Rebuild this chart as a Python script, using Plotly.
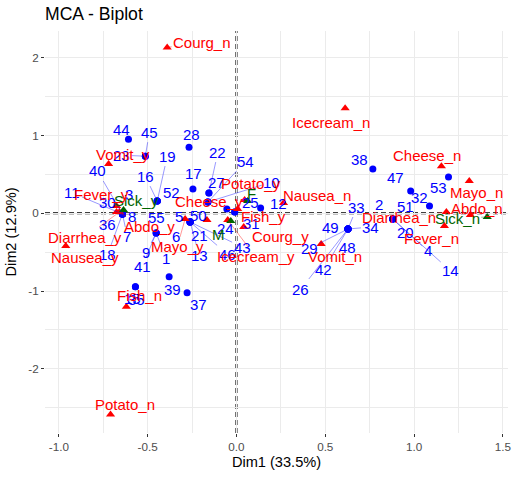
import math
import plotly.graph_objects as go

# ---------------- data ----------------
ind_names = [str(i) for i in range(1, 56)]
ind_dim1 = [-0.452, 0.880, -0.642, 0.880, -0.261, -0.261, -0.642, -0.642, -0.452, -0.161,
            -0.642, 0.136, -0.261, 0.880, -0.569, -0.446, -0.245, -0.642, -0.446, 0.880,
            -0.261, -0.155, -0.513, -0.054, -0.010, 0.628, -0.155, -0.267, 0.628, -0.642,
            -0.010, 1.087, 0.628, 0.628, -0.569, -0.642, -0.278, 0.768, -0.379, -0.642,
            -0.452, 0.628, -0.261, -0.608, -0.513, -0.261, 0.981, 0.628, 0.628, -0.161,
            0.880, -0.446, 1.194, -0.161, -0.446]
ind_dim2 = [-0.254, -0.074, -0.010, -0.074, -0.113, -0.113, -0.010, -0.010, -0.254, 0.144,
            -0.010, 0.067, -0.113, -0.074, -0.946, 0.156, 0.310, -0.010, 0.156, -0.074,
            -0.113, 0.259, 0.733, 0.054, 0.015, -0.203, 0.259, 0.849, -0.203, -0.010,
            0.015, 0.092, -0.203, -0.203, -0.946, -0.010, -1.023, 0.567, -0.818, -0.010,
            -0.254, -0.203, -0.113, 0.951, 0.733, -0.113, 0.285, -0.203, -0.203, 0.144,
            -0.074, 0.156, 0.464, 0.144, 0.156]

var_names = ["Nausea_n", "Nausea_y", "Vomit_n", "Vomit_y", "Abdo_n", "Abdo_y",
             "Fever_n", "Fever_y", "Diarrhea_n", "Diarrhea_y", "Potato_n", "Potato_y",
             "Fish_n", "Fish_y", "Mayo_n", "Mayo_y", "Courg_n", "Courg_y",
             "Cheese_n", "Cheese_y", "Icecream_n", "Icecream_y"]
var_dim1 = [0.265, -0.961, 0.477, -0.720, 1.317, -0.675, 1.171, -0.675, 1.182, -0.659,
            -0.709, 0.046, -0.620, 0.007, 1.311, -0.289, -0.390, 0.041, 1.154, -0.166,
            0.612, -0.049]
var_dim2 = [0.131, -0.421, -0.395, 0.631, -0.023, 0.015, -0.164, 0.092, 0.015, 0.015,
            -2.587, 0.169, -1.203, 0.054, 0.413, -0.074, 2.131, -0.177, 0.605, -0.087,
            1.349, -0.087]

sup_names = ["Sick_n", "Sick_y", "F", "M"]
sup_dim1 = [1.412, -0.636, 0.063, -0.032]
sup_dim2 = [-0.049, 0.041, 0.156, -0.100]

x_ticks = [-1.0, -0.5, 0.0, 0.5, 1.0, 1.5]
x_tick_labels = ["-1.0", "-0.5", "0.0", "0.5", "1.0", "1.5"]
y_ticks = [-2, -1, 0, 1, 2]
y_tick_labels = ["-2", "-1", "0", "1", "2"]

# ---------------- label placement (pixel offsets, repel-like) ----------------
ind_offsets = {
    "1": (10, 26), "2": (-14, -14), "3": (7, -19), "4": (35, 32), "5": (-11, -6),
    "6": (-14, 14), "7": (5, 23), "8": (10, 3), "9": (-10, 20), "10": (64, -20),
    "11": (-50, -21), "12": (18, -5), "13": (9, 33), "14": (58, 52), "15": (-3, 12),
    "16": (-12, -25), "17": (1, -16), "18": (-15, 41), "19": (10, -45), "20": (13, 14),
    "21": (9, 13), "22": (9, -41), "23": (-24, -1), "24": (-1, 19), "25": (16, -10),
    "26": (-47, 60), "27": (8, -11), "28": (2, -13), "29": (-38, 19), "30": (-15, -11),
    "31": (17, 11), "32": (-10, -9), "33": (9, -22), "34": (23, -2), "35": (1, 13),
    "36": (-15, 11), "37": (11, 12), "38": (-13, -10), "39": (3, 13), "40": (-25, -43),
    "41": (-14, 34), "42": (-24, 40), "43": (52, 25), "44": (-7, -10), "45": (4, -24),
    "46": (37, 32), "47": (-15, -14), "48": (0, 18), "49": (-17, -2), "50": (-9, 13),
    "51": (13, -12), "52": (14, -9), "53": (-10, 10), "54": (38, -41), "55": (-1, 16),
}
var_offsets = {
    "Courg_n": (35, -5), "Icecream_n": (-14, 14), "Cheese_n": (-14, -11),
    "Mayo_n": (7, 11), "Abdo_n": (7, -7), "Diarrhea_n": (-47, 5), "Fever_n": (-13, 13),
    "Nausea_n": (33, -8), "Vomit_n": (14, 13), "Courg_y": (37, 10), "Fish_y": (26, 7),
    "Potato_y": (6, -17), "Icecream_y": (28, 37), "Cheese_y": (2, -18),
    "Mayo_y": (-8, 28), "Abdo_y": (33, 14), "Fever_y": (-15, -12),
    "Diarrhea_y": (-34, 25), "Nausea_y": (19, 12), "Vomit_y": (14, -10),
    "Potato_n": (14, -10), "Fish_n": (13, -11),
}
sup_offsets = {"Sick_n": (-30, 1), "Sick_y": (13, -10), "F": (4, -8), "M": (-12, 14)}

BLUE = "#0000FF"
RED = "#FF0000"
GREEN = "#006400"
FONT = "Liberation Sans, Arial, Helvetica, sans-serif"
LABEL_SIZE = 15


def make_labels(names, xs, ys, offsets, color, seg_color):
    anns = []
    for n, x, y in zip(names, xs, ys):
        dx, dy = offsets.get(n, (0, 0))
        dist = math.hypot(dx, dy)
        if dist > 21:
            anns.append(dict(x=x, y=y, xref="x", yref="y", text=n, showarrow=True,
                             ax=dx, ay=dy, arrowhead=0, arrowwidth=0.8,
                             arrowcolor=seg_color, standoff=0, startstandoff=0,
                             font=dict(size=LABEL_SIZE, color=color, family=FONT)))
        else:
            anns.append(dict(x=x, y=y, xref="x", yref="y", text=n, showarrow=False,
                             xshift=dx, yshift=-dy,
                             font=dict(size=LABEL_SIZE, color=color, family=FONT)))
    return anns


fig = go.Figure()
fig.add_trace(go.Scatter(x=ind_dim1, y=ind_dim2, mode="markers",
                         marker=dict(symbol="circle", size=7, color=BLUE),
                         name="ind", hoverinfo="text", text=ind_names))
fig.add_trace(go.Scatter(x=var_dim1, y=var_dim2, mode="markers",
                         marker=dict(symbol="triangle-up", size=8, color=RED),
                         name="var", hoverinfo="text", text=var_names))
fig.add_trace(go.Scatter(x=sup_dim1, y=sup_dim2, mode="markers",
                         marker=dict(symbol="triangle-up", size=8, color=GREEN),
                         name="quali.sup", hoverinfo="text", text=sup_names))

annotations = []
annotations += make_labels(ind_names, ind_dim1, ind_dim2, ind_offsets, BLUE, "rgba(0,0,255,0.5)")
annotations += make_labels(sup_names, sup_dim1, sup_dim2, sup_offsets, GREEN, "rgba(0,100,0,0.5)")
annotations += make_labels(var_names, var_dim1, var_dim2, var_offsets, RED, "rgba(255,0,0,0.5)")

shapes = [
    dict(type="line", xref="x", yref="paper", x0=0, x1=0, y0=0, y1=1,
         line=dict(color="black", width=2, dash="5px,3px"), layer="below"),
    dict(type="line", xref="paper", yref="y", x0=0, x1=1, y0=0, y1=0,
         line=dict(color="black", width=2, dash="5px,3px"), layer="below"),
]

axis_common = dict(
    showgrid=True, gridcolor="#EBEBEB", gridwidth=1.1, zeroline=False, showline=False,
    ticks="outside", ticklen=3, tickwidth=1, tickcolor="#333333",
    tickfont=dict(size=11.7, color="#4D4D4D", family=FONT),
)

fig.update_layout(
    width=518, height=480,
    paper_bgcolor="white", plot_bgcolor="white",
    margin=dict(l=45, r=7, t=31, b=47),
    showlegend=False,
    title=dict(text="MCA - Biplot", x=0, xref="paper", xanchor="left",
               y=1 - 14 / 480, yref="container", yanchor="middle",
               font=dict(size=17.6, color="black", family=FONT)),
    xaxis=dict(range=[-1.078, 1.529], tickvals=x_ticks, ticktext=x_tick_labels,
               minor=dict(dtick=0.25, tick0=0, showgrid=True, gridcolor="#EBEBEB",
                          gridwidth=0.5, ticks=""),
               title=dict(text="Dim1 (33.5%)", standoff=4,
                          font=dict(size=14.6, color="black", family=FONT)),
               **axis_common),
    yaxis=dict(range=[-2.825, 2.342], tickvals=y_ticks, ticktext=y_tick_labels,
               minor=dict(dtick=0.5, tick0=0, showgrid=True, gridcolor="#EBEBEB",
                          gridwidth=0.5, ticks=""),
               title=dict(text="Dim2 (12.9%)", standoff=8,
                          font=dict(size=14.6, color="black", family=FONT)),
               **axis_common),
    annotations=annotations,
    shapes=shapes,
)

fig.write_html("out.html", config={"displayModeBar": False},
               post_script="document.body.style.margin='0';document.body.style.padding='0';")
